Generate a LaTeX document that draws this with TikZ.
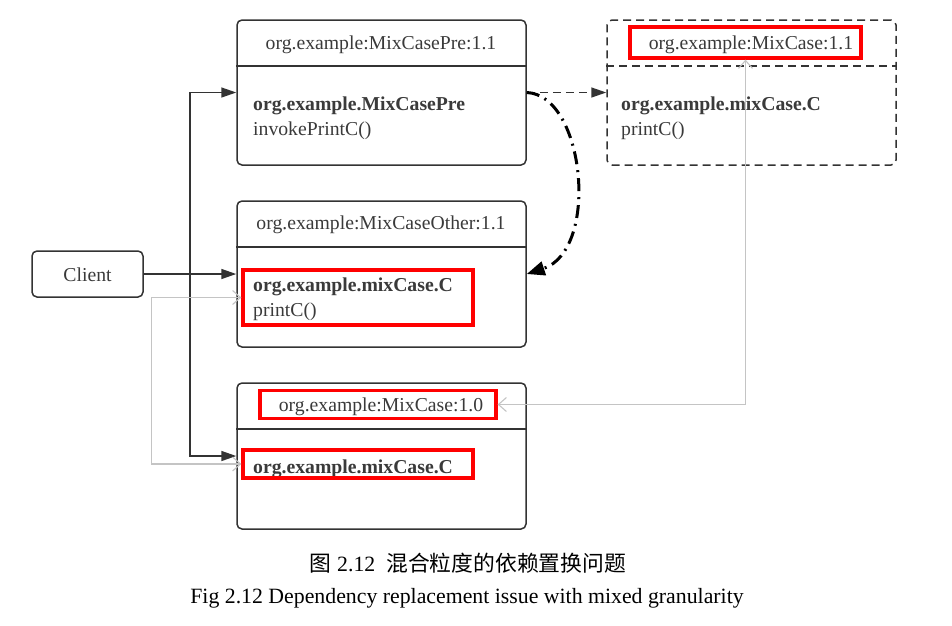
\documentclass[tikz,border=0pt]{standalone}
\usepackage{fontspec}
\setmainfont{Liberation Serif}
\newfontfamily\cjk{Noto Sans CJK SC}
\usetikzlibrary{arrows.meta}
\definecolor{ink}{HTML}{333333}
\definecolor{txt}{HTML}{3A3A3A}
\definecolor{lgrey}{HTML}{C4C4C4}
\definecolor{hired}{HTML}{FF0000}
\tikzset{
  box/.style={draw=ink, line width=1.5pt, rounded corners=5pt, inner sep=0pt},
  dbox/.style={box, dash pattern=on 8pt off 5pt},
  redbox/.style={draw=hired, line width=3.2pt, inner sep=0pt},
  ttl/.style={text=txt, font=\fontsize{19.7pt}{23pt}\selectfont, inner sep=0pt},
  bodytxt/.style={text=txt, font=\fontsize{19.7pt}{23pt}\selectfont, inner sep=0pt, anchor=west},
  boldtxt/.style={bodytxt, font=\fontsize{19.7pt}{23pt}\selectfont\bfseries},
  arr/.style={draw=ink, line width=1.5pt, -{Triangle[length=15pt,width=10pt]}},
  greyarr/.style={draw=lgrey, line width=1.1pt, {Straight Barb[length=8pt,width=14pt]}-{Straight Barb[length=8pt,width=14pt]}},
  curvearr/.style={draw=black, line width=3pt, dash pattern=on 13pt off 6pt on 2pt off 6pt, -{Triangle[length=18pt,width=14pt]}},
}
\begin{document}
\begin{tikzpicture}[x=1pt,y=-1pt]
\useasboundingbox (0,0) rectangle (952,625);
% boxes
\node[box, minimum width=289pt, minimum height=145pt] (A) at (381.5,92.5) {};
\node[box, minimum width=289pt, minimum height=146pt] (B) at (381.5,274) {};
\node[box, minimum width=289pt, minimum height=146pt] (C) at (381.5,456) {};
\node[dbox, minimum width=289pt, minimum height=145pt] (D) at (751.5,92.5) {};
\node[box, minimum width=111pt, minimum height=46pt] (client) at (87.5,274) {};
% dividers
\draw[draw=ink, line width=1.5pt] (A.west |- 0,66) -- (A.east |- 0,66);
\draw[draw=ink, line width=1.5pt] (B.west |- 0,247) -- (B.east |- 0,247);
\draw[draw=ink, line width=1.5pt] (C.west |- 0,429) -- (C.east |- 0,429);
\draw[draw=ink, line width=1.5pt, dash pattern=on 8pt off 5pt] (D.west |- 0,66) -- (D.east |- 0,66);
% titles
\node[ttl] (At) at (381,45) {org.example:MixCasePre:1.1};
\node[ttl] (Bt) at (381,225) {org.example:MixCaseOther:1.1};
\node[ttl] (Ct) at (381,407) {org.example:MixCase:1.0};
\node[ttl] (Dt) at (751,45) {org.example:MixCase:1.1};
\node[ttl] (clientt) at (87.5,275) {Client};
% body texts
\node[boldtxt] (A1) at (253,105.5) {org.example.MixCasePre};
\node[bodytxt] (A2) at (253,130.5) {invokePrintC()};
\node[boldtxt] (B1) at (253,286.5) {org.example.mixCase.C};
\node[bodytxt] (B2) at (253,311.5) {printC()};
\node[boldtxt] (C1) at (253,468.5) {org.example.mixCase.C};
\node[boldtxt] (D1) at (621,105.5) {org.example.mixCase.C};
\node[bodytxt] (D2) at (621,130.5) {printC()};
% red boxes
\node[redbox, minimum width=230pt, minimum height=55pt] (rbb) at (358,297.5) {};
\node[redbox, minimum width=236pt, minimum height=28pt] (rct) at (378,404.5) {};
\node[redbox, minimum width=230pt, minimum height=28pt] (rcb) at (358,464) {};
\node[redbox, minimum width=231pt, minimum height=31pt] (rdt) at (745.5,42.5) {};
% client connectors
\coordinate (j) at (190,274);
\draw[arr] (client.east) -- (B.west);
\draw[arr] (j) |- (A.west);
\draw[arr] (j) |- (C.west);
% grey connectors
\draw[greyarr] (rbb.west) -- ++(-90,0) |- (rcb.west);
\draw[greyarr] (rct.east) -| (rdt.south);
% dashed arrow
\draw[draw=ink, line width=1.5pt, dash pattern=on 8pt off 5pt, -{Triangle[length=15pt,width=10pt]}] (A.east) -- (D.west);
% curved dash-dot arrow
\draw[curvearr] (A.east) .. controls (585,95) and (600,250) .. (B.east);
% captions
\node[text=black, font=\fontsize{21.8pt}{26pt}\selectfont, inner sep=0pt] (cap1) at (468,563) {{\cjk 图} 2.12\ \ {\cjk 混合粒度的依赖置换问题}};
\node[text=black, font=\fontsize{21.8pt}{26pt}\selectfont, inner sep=0pt] (cap2) at (467,598) {Fig 2.12 Dependency replacement issue with mixed granularity};
\end{tikzpicture}
\end{document}
